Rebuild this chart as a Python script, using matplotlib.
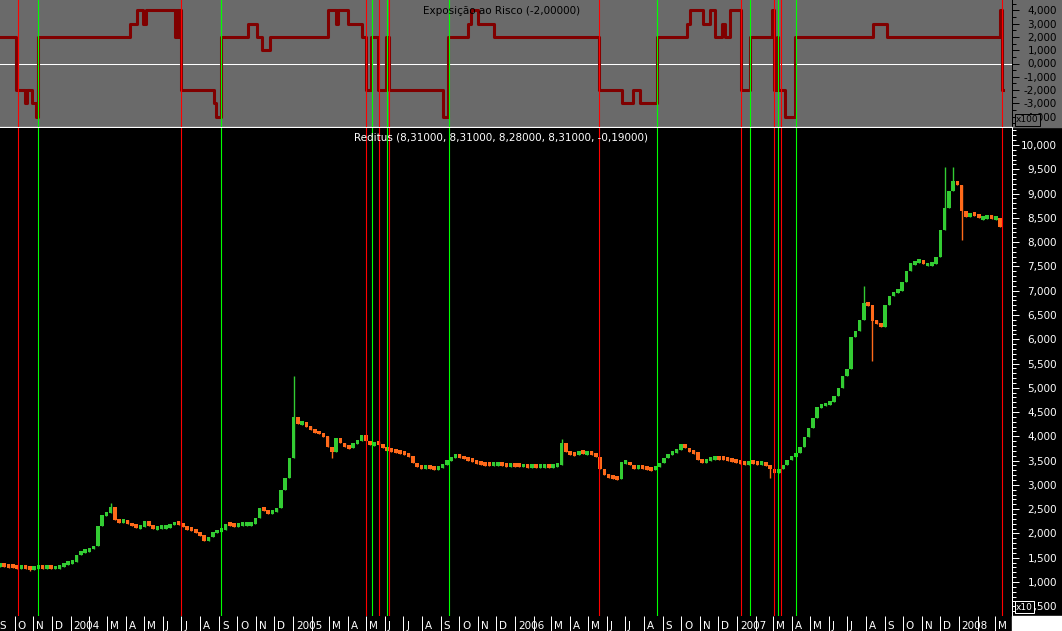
import matplotlib
matplotlib.use('Agg')
import matplotlib.pyplot as plt
import matplotlib.dates as mdates
import pandas as pd
from matplotlib.patches import Rectangle
from matplotlib.ticker import MultipleLocator, FuncFormatter

plt.rcParams['font.family'] = 'DejaVu Sans'

# --- data -------------------------------------------------------------
start = pd.Timestamp('2003-09-07')

# weekly closes of Reditus
closes = [
    1.35, 1.34, 1.33, 1.32, 1.31, 1.32, 1.30, 1.28, 1.31, 1.32,
    1.31, 1.31, 1.30, 1.30, 1.33, 1.38, 1.40, 1.42, 1.56, 1.64,
    1.65, 1.68, 1.74, 2.15, 2.37, 2.43, 2.55, 2.28, 2.25, 2.25,
    2.21, 2.16, 2.13, 2.14, 2.25, 2.15, 2.12, 2.12, 2.13, 2.14,
    2.17, 2.24, 2.19, 2.14, 2.10, 2.07, 2.02, 1.97, 1.85, 1.92,
    2.03, 2.05, 2.08, 2.20, 2.18, 2.17, 2.19, 2.19, 2.20, 2.20,
    2.32, 2.53, 2.46, 2.43, 2.46, 2.52, 2.90, 3.15, 3.55, 4.40,
    4.25, 4.30, 4.20, 4.13, 4.09, 4.07, 4.00, 3.78, 3.68, 3.97,
    3.86, 3.80, 3.76, 3.86, 3.90, 4.03, 3.90, 3.82, 3.88, 3.84,
    3.76, 3.72, 3.71, 3.68, 3.66, 3.65, 3.59, 3.45, 3.38, 3.35,
    3.37, 3.35, 3.33, 3.35, 3.42, 3.52, 3.56, 3.62, 3.58, 3.55,
    3.53, 3.48, 3.45, 3.44, 3.43, 3.42, 3.43, 3.43, 3.42, 3.41,
    3.42, 3.41, 3.40, 3.40, 3.39, 3.39, 3.38, 3.39, 3.39, 3.38,
    3.39, 3.42, 3.86, 3.68, 3.65, 3.62, 3.70, 3.65, 3.68, 3.64,
    3.58, 3.33, 3.20, 3.18, 3.16, 3.12, 3.47, 3.48, 3.40, 3.35,
    3.37, 3.35, 3.34, 3.33, 3.38, 3.45, 3.56, 3.64, 3.66, 3.72,
    3.85, 3.76, 3.68, 3.67, 3.52, 3.47, 3.53, 3.53, 3.56, 3.55,
    3.54, 3.51, 3.50, 3.47, 3.46, 3.45, 3.47, 3.46, 3.45, 3.45,
    3.40, 3.32, 3.24, 3.32, 3.40, 3.52, 3.59, 3.65, 3.79, 3.98,
    4.18, 4.38, 4.60, 4.65, 4.66, 4.70, 4.83, 5.00, 5.25, 5.38,
    6.04, 6.17, 6.40, 6.74, 6.70, 6.38, 6.33, 6.25, 6.70, 6.90,
    6.98, 7.00, 7.18, 7.40, 7.57, 7.58, 7.63, 7.54, 7.54, 7.55,
    7.70, 8.25, 8.70, 9.05, 9.25, 9.17, 8.65, 8.52, 8.60, 8.56,
    8.50, 8.51, 8.52, 8.50, 8.50, 8.31,
]
week_dates = pd.date_range(start, periods=len(closes), freq='7D')

# weeks with long shadows (index -> price)
spike_highs = {26: 2.63, 69: 5.24, 132: 3.95, 203: 7.10, 222: 9.54, 224: 9.54}
spike_lows = {7: 1.22, 69: 3.60, 78: 3.55, 181: 3.15, 205: 5.55, 222: 8.25, 226: 8.05}

# risk exposure (step changes)
exposure_dates = [
    '2003-09-07', '2003-10-03', '2003-10-18', '2003-10-21', '2003-10-30', '2003-11-05',
    '2003-11-09', '2004-04-08', '2004-04-19', '2004-04-29', '2004-05-04', '2004-06-21',
    '2004-06-24', '2004-06-27', '2004-06-29', '2004-07-01', '2004-08-24', '2004-08-27',
    '2004-09-04', '2004-10-19', '2004-11-03', '2004-11-11', '2004-11-24', '2005-02-28',
    '2005-03-13', '2005-03-16', '2005-04-01', '2005-04-24', '2005-05-01', '2005-05-10',
    '2005-05-21', '2005-06-03', '2005-06-08', '2005-09-05', '2005-09-13', '2005-10-16',
    '2005-10-21', '2005-11-01', '2005-11-28', '2006-05-19', '2006-06-26', '2006-07-14',
    '2006-07-26', '2006-08-22', '2006-10-11', '2006-10-16', '2006-11-06', '2006-11-18',
    '2006-11-26', '2006-12-08', '2006-12-13', '2006-12-21', '2007-01-08', '2007-01-23',
    '2007-02-28', '2007-03-03', '2007-03-08', '2007-03-10', '2007-03-21', '2007-04-07',
    '2007-08-13', '2007-09-05', '2008-03-09', '2008-03-13', '2008-03-14',
]
exposure_values = [
    2, -2, -3, -2, -3, -4,
    2, 3, 4, 3, 4, 2,
    4, 2, 4, -2, -3, -4,
    2, 3, 2, 1, 2, 4,
    3, 4, 3, 2, -2, 2,
    -2, 2, -2, -4, 2, 3,
    4, 3, 2, -2, -3, -2,
    -3, 2, 3, 4, 3, 4,
    2, 3, 2, 4, -2, 2,
    4, -2, 2, -2, -4, 2,
    3, 2, 4, -2, -2,
]

red_signals = ['2003-10-07', '2004-07-01', '2005-05-01', '2005-05-22', '2005-06-08',
               '2006-05-20', '2007-01-08', '2007-03-03', '2007-03-14', '2008-03-13']
green_signals = ['2003-11-08', '2004-09-04', '2005-05-11', '2005-06-05', '2005-09-14',
                 '2006-08-22', '2007-01-23', '2007-03-09', '2007-04-08']

exposure_title = 'Exposição ao Risco (-2,00000)'
price_title = 'Reditus (8,31000, 8,31000, 8,28000, 8,31000, -0,19000)'
month_letters = ['J', 'F', 'M', 'A', 'M', 'J', 'J', 'A', 'S', 'O', 'N', 'D']

# --- layout -----------------------------------------------------------
W, H = 1062, 631
def fx(px):
    return px / W
def fy(py):
    return 1 - py / H

GRAY = '#6a6a6a'
fig = plt.figure(figsize=(W / 100, H / 100), dpi=100, facecolor='black')
fig.add_artist(Rectangle((fx(1012), fy(127)), 1 - fx(1012), 127 / H,
                         transform=fig.transFigure, color=GRAY, zorder=-5))
fig.add_artist(Rectangle((fx(1012), 0), 1 - fx(1012), 15 / H,
                         transform=fig.transFigure, color='white', zorder=-5))

ax1 = fig.add_axes([0, fy(127), fx(1012), 127 / H], facecolor=GRAY)
ax2 = fig.add_axes([0, fy(616), fx(1012), (616 - 128) / H], facecolor='black')

fmt = FuncFormatter(lambda v, p: f'{v:.3f}'.replace('.', ','))

# --- top: risk exposure ----------------------------------------------
ed = mdates.date2num(pd.to_datetime(exposure_dates))
ax1.axhline(0, color='white', lw=0.75, zorder=1)
ax1.step(ed, exposure_values, where='post', color='#800000', lw=2.2, zorder=3)
ax1.set_ylim(-4.77, 4.77)
ax1.yaxis.tick_right()
ax1.yaxis.set_major_locator(MultipleLocator(1))
ax1.yaxis.set_minor_locator(MultipleLocator(0.5))
ax1.yaxis.set_major_formatter(fmt)
ax1.tick_params(axis='y', which='major', length=5, width=0.72, colors='black',
                labelsize=7.5, pad=27.4)
ax1.tick_params(axis='y', which='minor', length=3, width=0.72, colors='black')
ax1.set_xticks([])
for s in ('top', 'left'):
    ax1.spines[s].set_visible(False)
ax1.spines['right'].set_color('black')
ax1.spines['right'].set_linewidth(0.72)
ax1.spines['bottom'].set_color('white')
ax1.spines['bottom'].set_linewidth(0.9)
plt.setp(ax1.get_yticklabels(), ha='right')

# --- bottom: price bars ----------------------------------------------
dn = mdates.date2num(week_dates)
opens = [closes[0]] + closes[:-1]
bottoms, heights, colors, lows, highs = [], [], [], [], []
for i, (o, c) in enumerate(zip(opens, closes)):
    lo, hi = min(o, c), max(o, c)
    if hi - lo < 0.08:
        mid = (hi + lo) / 2
        lo, hi = mid - 0.04, mid + 0.04
    bottoms.append(lo)
    heights.append(hi - lo)
    colors.append('#33cc33' if c >= o else '#ff6a1a')
    lows.append(min(lo, spike_lows.get(i, lo)))
    highs.append(max(hi, spike_highs.get(i, hi)))
ax2.vlines(dn, lows, highs, colors=colors, lw=1.0, zorder=2)
ax2.bar(dn, heights, bottom=bottoms, width=5.8, color=colors, linewidth=0, zorder=3)

ax2.set_ylim(0.30, 10.35)
ax2.yaxis.tick_right()
ax2.yaxis.set_major_locator(MultipleLocator(0.5))
ax2.yaxis.set_minor_locator(MultipleLocator(0.1))
ax2.yaxis.set_major_formatter(fmt)
ax2.tick_params(axis='y', which='major', length=5, width=0.72, colors='white',
                labelsize=7.5, pad=27.4)
ax2.tick_params(axis='y', which='minor', length=3, width=0.72, colors='white')
plt.setp(ax2.get_yticklabels(), ha='right')
for s in ('top', 'left', 'bottom'):
    ax2.spines[s].set_visible(False)
ax2.spines['right'].set_color('white')
ax2.spines['right'].set_linewidth(0.72)

# month ticks and labels in the strip below
months = pd.date_range('2003-09-01', '2008-03-01', freq='MS')
mn = mdates.date2num(months)
ax2.set_xticks(mn)
ax2.tick_params(axis='x', direction='out', length=10.8, width=0.72, colors='white',
                labelbottom=False)
for d, m in zip(months, mn):
    if d.month == 1:
        lab = str(d.year)
    elif d.month == 2:
        continue
    else:
        lab = month_letters[d.month - 1]
    ax2.annotate(lab, xy=(m, 0), xycoords=('data', 'axes fraction'),
                 xytext=(2.2, -9.4), textcoords='offset points', ha='left',
                 va='baseline', color='white', fontsize=7.5, annotation_clip=False)

# signal lines
for d in red_signals:
    for ax in (ax1, ax2):
        ax.axvline(mdates.date2num(pd.Timestamp(d)), color='#ff0000', lw=0.8, zorder=4)
for d in green_signals:
    for ax in (ax1, ax2):
        ax.axvline(mdates.date2num(pd.Timestamp(d)), color='#00ff00', lw=0.8, zorder=4)

# same date window for both panels (set last, after the ticks)
x0 = mdates.date2num(start)
x1 = mdates.date2num(start + pd.Timedelta(days=1664.7))
for ax in (ax1, ax2):
    ax.set_xlim(x0, x1)

# titles and scale boxes
fig.text(fx(423), fy(11), exposure_title, color='black', fontsize=7.5, va='center')
fig.text(fx(354), fy(138), price_title, color='white', fontsize=7.5, va='center')
fig.text(fx(1016), fy(120), 'x100', color='black', fontsize=6.5, va='center',
         bbox=dict(boxstyle='square,pad=0.15', fc=GRAY, ec='black', lw=0.72), zorder=10)
fig.text(fx(1016), fy(607), 'x10', color='white', fontsize=6.5, va='center',
         bbox=dict(boxstyle='square,pad=0.15', fc='black', ec='white', lw=0.72), zorder=10)

fig.savefig('out.png', dpi=100, facecolor='black')
